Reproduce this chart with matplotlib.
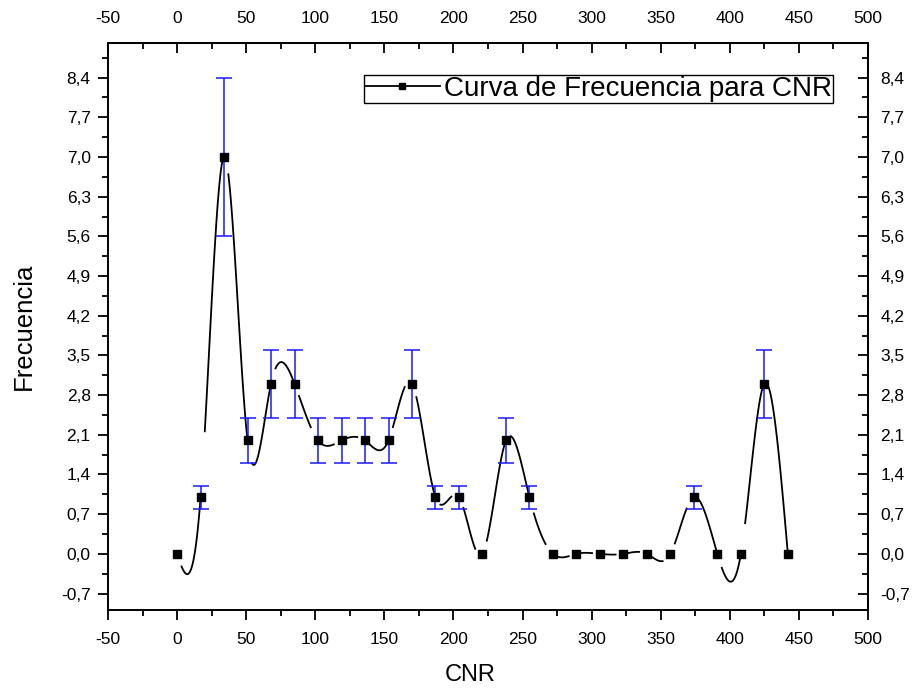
import numpy as np
import matplotlib
matplotlib.use("Agg")
import matplotlib.pyplot as plt
from matplotlib.ticker import MultipleLocator, FixedLocator, FuncFormatter

plt.rcParams['font.family'] = ['Liberation Sans', 'DejaVu Sans']
plt.rcParams['axes.unicode_minus'] = False

# Histogram of CNR values (bin centres) and counts
cnr = [0, 17, 34, 51, 68, 85, 102, 119, 136, 153, 170, 187, 204, 221,
       238, 255, 272, 289, 306, 323, 340, 357, 374, 391, 408, 425, 442]
frecuencia = [0, 1, 7, 2, 3, 3, 2, 2, 2, 2, 3, 1, 1, 0,
              2, 1, 0, 0, 0, 0, 0, 0, 1, 0, 0, 3, 0]
error = [0, 0.2, 1.4, 0.4, 0.6, 0.6, 0.4, 0.4, 0.4, 0.4, 0.6, 0.2, 0.2, 0,
         0.4, 0.2, 0, 0, 0, 0, 0, 0, 0.2, 0, 0, 0.6, 0]
legend_label = "Curva de Frecuencia para CNR"
x_ticks = [-50, 0, 50, 100, 150, 200, 250, 300, 350, 400, 450, 500]
y_ticks = [-0.7, 0.0, 0.7, 1.4, 2.1, 2.8, 3.5, 4.2, 4.9, 5.6, 6.3, 7.0, 7.7, 8.4]

# Line style: spline pieces leave a small gap after each symbol, and some
# pieces stop short of the next symbol as well
start_gap = 3.0
end_gap = 5.0
stops_short = [False, False, False, False, False, True, True, True, False,
               True, False, True, True, False, False, True, True, True, True,
               True, True, True, False, False, False, False]


def natural_spline_coeffs(x, y):
    x = np.asarray(x, float)
    y = np.asarray(y, float)
    n = len(x)
    h = np.diff(x)
    A = np.zeros((n, n))
    b = np.zeros(n)
    A[0, 0] = 1.0
    A[-1, -1] = 1.0
    for i in range(1, n - 1):
        A[i, i - 1] = h[i - 1]
        A[i, i] = 2 * (h[i - 1] + h[i])
        A[i, i + 1] = h[i]
        b[i] = 6 * ((y[i + 1] - y[i]) / h[i] - (y[i] - y[i - 1]) / h[i - 1])
    return np.linalg.solve(A, b)


def spline_piece(x, y, M, i, t):
    x0, x1 = x[i], x[i + 1]
    h = x1 - x0
    return (M[i] * (x1 - t) ** 3 / (6 * h) + M[i + 1] * (t - x0) ** 3 / (6 * h)
            + (y[i] / h - M[i] * h / 6) * (x1 - t)
            + (y[i + 1] / h - M[i + 1] * h / 6) * (t - x0))


fig = plt.figure(figsize=(9.2, 6.91), dpi=100)
ax = fig.add_axes([108 / 920, 1 - 610 / 691, 760 / 920, 567 / 691])

xs = np.array(cnr, float)
ys = np.array(frecuencia, float)
M = natural_spline_coeffs(xs, ys)
for i in range(len(xs) - 1):
    t0 = xs[i] + start_gap
    t1 = xs[i + 1] - (end_gap if stops_short[i] else 0.0)
    t = np.linspace(t0, t1, 60)
    ax.plot(t, spline_piece(xs, ys, M, i, t), color='black', lw=1.3,
            solid_capstyle='butt', zorder=2)

err = np.array(error, float)
has_err = err > 0
ax.errorbar(xs[has_err], ys[has_err], yerr=err[has_err], fmt='none',
            ecolor='#1a1aff', elinewidth=1.1, capsize=5.5, capthick=1.1,
            zorder=3)
ax.plot(xs, ys, linestyle='none', marker='s', ms=5.5, color='black',
        zorder=4)

# legend handle: line with a square symbol
handle, = ax.plot([], [], color='black', lw=1.3, marker='s', ms=4)
leg = ax.legend([handle], [legend_label], loc='upper right',
                bbox_to_anchor=(833 / 920, 1 - 75 / 691),
                bbox_transform=fig.transFigure, borderaxespad=0,
                fancybox=False, edgecolor='black', framealpha=1,
                fontsize=20, handlelength=2.7, handletextpad=0.15,
                borderpad=0.03, markerscale=1)
leg.get_frame().set_linewidth(1.0)

ax.set_xlim(-50, 500)
ax.set_ylim(-0.99, 9.01)

comma = FuncFormatter(lambda v, p: f"{v:.1f}".replace('.', ','))
intfmt = FuncFormatter(lambda v, p: f"{v:.0f}")
x_minor = [t + 25 for t in x_ticks[:-1]]
y_minor = [round(t + 0.35, 2) for t in [-1.05] + y_ticks]

for sp in ax.spines.values():
    sp.set_linewidth(1.4)

ax.xaxis.set_major_locator(FixedLocator(x_ticks))
ax.xaxis.set_minor_locator(FixedLocator(x_minor))
ax.yaxis.set_major_locator(FixedLocator(y_ticks))
ax.yaxis.set_minor_locator(FixedLocator(y_minor))
ax.xaxis.set_major_formatter(intfmt)
ax.yaxis.set_major_formatter(comma)
ax.tick_params(which='major', direction='out', length=7.5, width=1.3,
               labelsize=12.5, pad=5, top=False, right=False)
ax.tick_params(which='minor', direction='out', length=4, width=1.3,
               top=False, right=False)
ax.tick_params(axis='x', which='major', pad=8)

top = ax.secondary_xaxis('top')
top.xaxis.set_major_locator(FixedLocator(x_ticks))
top.xaxis.set_minor_locator(FixedLocator(x_minor))
top.xaxis.set_major_formatter(intfmt)
top.tick_params(which='major', direction='in', length=7.5, width=1.3,
                labelsize=12.5, pad=12)
top.tick_params(which='minor', direction='in', length=4, width=1.3)
top.spines['top'].set_linewidth(1.4)

right = ax.secondary_yaxis('right')
right.yaxis.set_major_locator(FixedLocator(y_ticks))
right.yaxis.set_minor_locator(FixedLocator(y_minor))
right.yaxis.set_major_formatter(comma)
right.tick_params(which='major', direction='in', length=7.5, width=1.3,
                  labelsize=12.5, pad=9)
right.tick_params(which='minor', direction='in', length=4, width=1.3)
right.spines['right'].set_linewidth(1.4)

ax.set_xlabel("CNR", fontsize=17, labelpad=13)
ax.xaxis.set_label_coords((470 - 108) / 760, -0.095)
ax.set_ylabel("Frecuencia", fontsize=18.5, labelpad=18)

fig.savefig("out.png", dpi=100)
